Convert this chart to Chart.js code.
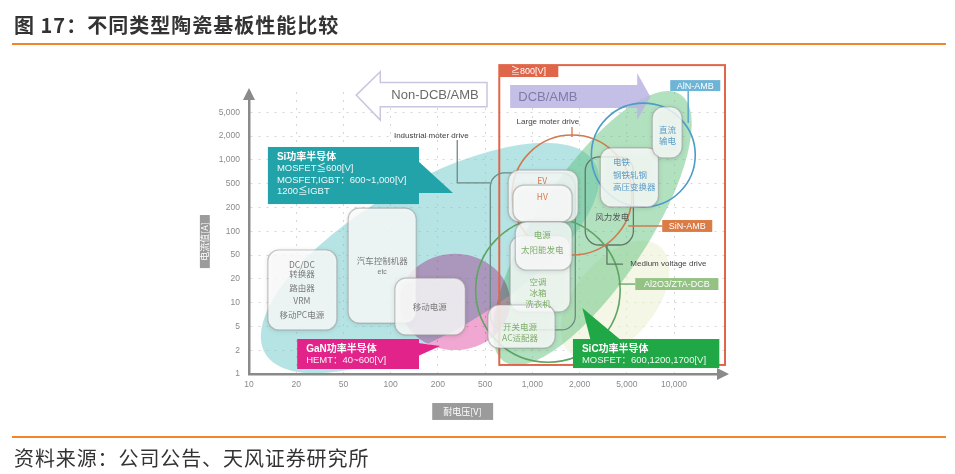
<!DOCTYPE html>
<html>
<head>
<meta charset="utf-8">
<script src="https://cdn.jsdelivr.net/npm/chart.js@4.4.0/dist/chart.umd.min.js"></script>
<style>
  body { margin: 0; width: 955px; height: 474px; position: relative; background: #fff; overflow: hidden; font-family: "Noto Sans CJK SC", sans-serif; }
  #wrap { position: absolute; left: 0; top: 0; width: 955px; height: 474px; }
  #title { position: absolute; left: 14px; top: 10px; font-size: 20px; font-weight: bold; letter-spacing: 1px; color: #333; white-space: nowrap; }
  #foot { position: absolute; left: 14px; top: 443px; font-size: 20px; letter-spacing: 0.9px; color: #333; white-space: nowrap; }
  .rule { position: absolute; left: 12px; width: 934px; height: 2px; background: #f0852a; }
</style>
</head>
<body>
<div id="wrap"><canvas id="c" width="955" height="474"></canvas></div>
<div id="title">图 17：不同类型陶瓷基板性能比较</div>
<div class="rule" style="top:43px"></div>
<div class="rule" style="top:436px"></div>
<div id="foot">资料来源：公司公告、天风证券研究所</div>
<script>
// axis ticks (equally spaced 1-2-5 steps)
const xTicks = ['10', '20', '50', '100', '200', '500', '1,000', '2,000', '5,000', '10,000'];
const yTicks = ['1', '2', '5', '10', '20', '50', '100', '200', '500', '1,000', '2,000', '5,000'];

// coloured material regions, in tick-index units
const zoneNames = ['Si', 'Al2O3', 'SiC', 'GaN'];
const zoneCenters = [[3.83, 4.87], [7.75, 3.11], [7.27, 6.13], [4.36, 3.03]];
const zoneRadii = [[4.03, 1.59], [1.48, 0.85], [3.39, 1.17], [1.17, 1.02]];
const zoneTilt = [-30, -50, -56.6, 0];

// substrate rings
const ringNames = ['Al2O3/ZTA-DCB', 'SiN-AMB', 'AlN-AMB'];
const ringCenters = [[6.33, 3.53], [6.84, 7.52], [8.35, 9.20]];
const ringRadius = [1.53, 1.27, 1.10];

// application boxes [x0, x1, yTop, yBottom]
const appBoxes = [
  [0.40, 1.86, 5.21, 1.85],
  [2.10, 3.54, 6.97, 2.14],
  [3.09, 4.58, 4.03, 1.64],
  [5.53, 6.80, 5.80, 2.61],
  [5.06, 6.48, 2.90, 1.09],
  [5.49, 6.97, 8.57, 6.39],
  [5.59, 6.84, 7.94, 6.39],
  [5.64, 6.84, 6.39, 4.37],
  [7.44, 8.67, 9.50, 7.02],
  [8.54, 9.17, 11.22, 9.08]
];

// application texts [text, x, y, group]
const appLabels = [
  ['DC/DC', 1.12, 4.58, 0], ['转换器', 1.12, 4.20, 0], ['路由器', 1.12, 3.61, 0], ['VRM', 1.12, 3.07, 0], ['移动PC电源', 1.12, 2.48, 0],
  ['汽车控制机器', 2.82, 4.75, 0], ['etc', 2.82, 4.29, 0],
  ['移动电源', 3.83, 2.82, 0],
  ['EV', 6.21, 8.11, 1], ['HV', 6.21, 7.44, 1],
  ['电源', 6.21, 5.84, 2], ['太阳能发电', 6.21, 5.21, 2],
  ['空调', 6.12, 3.87, 2], ['冰箱', 6.12, 3.40, 2], ['洗衣机', 6.12, 2.94, 2],
  ['开关电源', 5.74, 1.97, 2], ['AC适配器', 5.74, 1.51, 2],
  ['直流', 8.86, 10.25, 3], ['输电', 8.86, 9.79, 3],
  ['风力发电', 7.69, 6.60, 4]
];
const blueList = ['电铁', '钢铁轧钢', '高压变换器'];
const blueListAt = [7.71, [8.91, 8.36, 7.86]];

// drive notes [text, x, y]
const driveNotes = [['Industrial moter drive', 3.86, 10.0], ['Large moter drive', 6.33, 10.59], ['Medium voltage drive', 8.88, 4.62]];

// semiconductor callouts
const calloutTitles = ['Si功率半导体', 'GaN功率半导体', 'SiC功率半导体'];
const calloutLines = [
  ['MOSFET≦600[V]', 'MOSFET,IGBT：600~1,000[V]', '1200≦IGBT'],
  ['HEMT：40~600[V]'],
  ['MOSFET：600,1200,1700[V]']
];

const appColors = ['#7a7a7a', '#d97c4c', '#7eae6a', '#5b9cc6', '#555555'];

function rr(ctx, x0, y0, x1, y1, r) {
  ctx.beginPath();
  ctx.moveTo(x0 + r, y0);
  ctx.arcTo(x1, y0, x1, y1, r);
  ctx.arcTo(x1, y1, x0, y1, r);
  ctx.arcTo(x0, y1, x0, y0, r);
  ctx.arcTo(x0, y0, x1, y0, r);
  ctx.closePath();
}

const art = {
  id: 'art',
  beforeDatasetsDraw(chart) {
    const ctx = chart.ctx;
    const xs = chart.scales.x, ys = chart.scales.y;
    const X = v => xs.getPixelForValue(v), Y = v => ys.getPixelForValue(v);
    const U = X(1) - X(0);
    const latin = s => s + 'px "Liberation Sans", "Noto Sans CJK SC", sans-serif';
    const cjk = (s, w) => (w || '') + ' ' + s + 'px "Noto Sans CJK SC", sans-serif';
    const txt = (t, x, y, col, font, align) => {
      ctx.fillStyle = col; ctx.font = font; ctx.textAlign = align || 'center'; ctx.textBaseline = 'middle';
      ctx.fillText(t, x, y);
    };
    const poly = (pts) => {
      ctx.beginPath();
      pts.forEach((p, i) => i ? ctx.lineTo(X(p[0]), Y(p[1])) : ctx.moveTo(X(p[0]), Y(p[1])));
    };
    ctx.save();

    // regions
    const zoneFill = ['rgba(110,202,204,0.5)', 'rgba(238,241,214,0.6)', 'rgba(92,192,122,0.48)', 'rgb(240,168,210)'];
    zoneNames.forEach((n, i) => {
      ctx.save();
      if (n === 'GaN') ctx.globalCompositeOperation = 'multiply';
      ctx.fillStyle = zoneFill[i];
      ctx.beginPath();
      ctx.ellipse(X(zoneCenters[i][0]), Y(zoneCenters[i][1]), zoneRadii[i][0] * U, zoneRadii[i][1] * U, zoneTilt[i] * Math.PI / 180, 0, Math.PI * 2);
      ctx.fill();
      ctx.restore();
    });

    // Non-DCB/AMB arrow (outline)
    poly([[2.27, 11.72], [2.78, 12.70], [2.78, 12.25], [5.04, 12.25], [5.04, 11.23], [2.78, 11.23], [2.78, 10.67]]);
    ctx.closePath();
    ctx.fillStyle = '#fff'; ctx.fill();
    ctx.strokeStyle = '#c9c6df'; ctx.lineWidth = 1.5; ctx.stroke();
    txt('Non-DCB/AMB', X(3.94), Y(11.72), '#6a6a6a', latin(13));

    // ≧800V frame
    ctx.strokeStyle = '#e0664a'; ctx.lineWidth = 2;
    ctx.strokeRect(X(5.30), Y(12.98), X(10.08) - X(5.30), Y(0.38) - Y(12.98));
    ctx.fillStyle = '#e0664a';
    ctx.fillRect(X(5.30), Y(12.98), X(6.55) - X(5.30), Y(12.48) - Y(12.98));
    txt('≧800[V]', X(5.92), Y(12.73), '#fff', latin(9));

    // DCB/AMB arrow
    poly([[8.50, 11.65], [8.22, 12.65], [8.22, 12.14], [5.53, 12.14], [5.53, 11.18], [8.22, 11.18], [8.22, 10.67]]);
    ctx.closePath();
    ctx.fillStyle = 'rgba(186,180,226,0.85)'; ctx.fill();
    txt('DCB/AMB', X(6.33), Y(11.64), '#7f7ba8', latin(13));

    // drive outlines
    ctx.strokeStyle = '#6d8a86'; ctx.lineWidth = 1.3;
    rr(ctx, X(5.11), Y(8.45), X(6.91), Y(1.85), 14); ctx.stroke();
    ctx.strokeStyle = '#5f7a64';
    rr(ctx, X(7.12), Y(9.12), X(8.14), Y(5.42), 14); ctx.stroke();

    // rings
    const ringCol = ['#5fa463', '#cf7a4e', '#4d9cc9'];
    ringNames.forEach((n, i) => {
      ctx.strokeStyle = ringCol[i]; ctx.lineWidth = 1.6;
      ctx.beginPath();
      ctx.arc(X(ringCenters[i][0]), Y(ringCenters[i][1]), ringRadius[i] * U, 0, Math.PI * 2);
      ctx.stroke();
    });

    // application boxes
    appBoxes.forEach(b => {
      ctx.save();
      ctx.shadowColor = 'rgba(0,0,0,0.18)'; ctx.shadowBlur = 5; ctx.shadowOffsetY = 1;
      rr(ctx, X(b[0]), Y(b[2]), X(b[1]), Y(b[3]), 11);
      ctx.fillStyle = 'rgba(255,255,255,0.8)'; ctx.fill();
      ctx.restore();
      rr(ctx, X(b[0]), Y(b[2]), X(b[1]), Y(b[3]), 11);
      ctx.strokeStyle = 'rgba(150,150,150,0.55)'; ctx.lineWidth = 1.2; ctx.stroke();
    });
    appLabels.forEach(a => txt(a[0], X(a[1]), Y(a[2]), appColors[a[3]], a[0] === 'etc' ? latin(7) : cjk(8.5)));
    blueList.forEach((t, i) => txt(t, X(blueListAt[0]), Y(blueListAt[1][i]), appColors[3], cjk(8.5), 'left'));

    // leader lines
    const leader = (pts, col) => { poly(pts); ctx.strokeStyle = col; ctx.lineWidth = 1.3; ctx.stroke(); };
    leader([[4.41, 9.83], [4.41, 8.03], [5.11, 8.03]], '#6d8a86');
    leader([[6.84, 10.38], [6.84, 9.96]], '#cf7a4e');
    leader([[9.30, 11.89], [9.30, 10.55]], '#4d9cc9');
    leader([[8.03, 6.22], [8.75, 6.22]], '#cf7a4e');
    leader([[7.58, 5.42], [7.58, 4.62], [7.92, 4.62]], '#5f7a64');
    leader([[7.82, 3.78], [8.18, 3.78]], '#5fa463');
    driveNotes.forEach(d => txt(d[0], X(d[1]), Y(d[2]), '#444', latin(8)));

    // substrate tags
    const tag = (t, x0, x1, y0, y1, col) => {
      ctx.fillStyle = col; ctx.fillRect(X(x0), Y(y0), X(x1) - X(x0), Y(y1) - Y(y0));
      txt(t, (X(x0) + X(x1)) / 2, (Y(y0) + Y(y1)) / 2 + 0.5, '#fff', latin(9));
    };
    tag(ringNames[2], 8.92, 9.98, 12.35, 11.89, '#6db4d6');
    tag(ringNames[1], 8.75, 9.81, 6.47, 5.97, '#db7b45');
    tag(ringNames[0], 8.18, 9.94, 4.03, 3.53, '#93c283');

    // semiconductor callouts
    const callout = (i, box, ptr, col) => {
      ctx.fillStyle = col;
      ctx.fillRect(X(box[0]), Y(box[2]), X(box[1]) - X(box[0]), Y(box[3]) - Y(box[2]));
      poly(ptr); ctx.closePath(); ctx.fill();
      const lx = X(box[0]) + 9;
      let ly = Y(box[2]) + 10;
      txt(calloutTitles[i], lx, ly, '#fff', 'bold 10px "Liberation Sans", "Noto Sans CJK SC", sans-serif', 'left');
      calloutLines[i].forEach(l => { ly += 11.5; txt(l, lx, ly, 'rgba(255,255,255,0.92)', latin(9.5), 'left'); });
    };
    callout(0, [0.40, 3.60, 9.54, 7.14], [[3.58, 8.95], [4.32, 7.61], [3.58, 7.61]], '#22a3a9');
    callout(1, [1.02, 3.60, 1.47, 0.21], [[3.58, 1.30], [4.05, 1.18], [3.58, 0.76]], '#e2248a');
    callout(2, [6.86, 9.96, 1.47, 0.25], [[7.23, 1.45], [7.06, 2.77], [7.86, 1.45]], '#20a847');

    // axis titles
    ctx.fillStyle = '#9b9b9b';
    ctx.fillRect(X(3.88), Y(-1.22), X(5.17) - X(3.88), Y(-1.93) - Y(-1.22));
    txt('耐电压[V]', X(4.52), Y(-1.57), '#fff', cjk(9));
    ctx.fillStyle = '#9b9b9b';
    ctx.fillRect(X(-1.04), Y(6.68), X(-0.83) - X(-1.04), Y(4.45) - Y(6.68));
    ctx.save();
    ctx.translate(X(-0.935), Y(5.57));
    ctx.rotate(-Math.PI / 2);
    txt('电流值[A]', 0, 0, '#fff', cjk(9));
    ctx.restore();

    // axis arrow heads
    ctx.fillStyle = '#8a8a8a';
    ctx.beginPath();
    ctx.moveTo(xs.right + 4, ys.bottom); ctx.lineTo(xs.right - 8, ys.bottom - 6); ctx.lineTo(xs.right - 8, ys.bottom + 6); ctx.closePath(); ctx.fill();
    ctx.beginPath();
    ctx.moveTo(xs.left, ys.top - 4); ctx.lineTo(xs.left - 6, ys.top + 8); ctx.lineTo(xs.left + 6, ys.top + 8); ctx.closePath(); ctx.fill();
    ctx.restore();
  }
};

new Chart(document.getElementById('c'), {
  type: 'scatter',
  data: { datasets: [{ data: [] }] },
  options: {
    responsive: false,
    animation: false,
    layout: { padding: { left: 204, right: 230, top: 92, bottom: 70 } },
    plugins: { legend: { display: false }, tooltip: { enabled: false } },
    scales: {
      x: {
        type: 'linear', min: 0, max: 10.08,
        afterBuildTicks: s => { s.ticks = xTicks.map((_, i) => ({ value: i })); },
        afterFit: s => { s.height = 30; },
        ticks: { callback: v => xTicks[v], color: '#8a8a8a', padding: 6, maxRotation: 0, autoSkip: false, font: { family: 'Liberation Sans', size: 8.5 } },
        grid: { color: '#d6d6d6', drawTicks: false },
        border: { color: '#8a8a8a', width: 2.5, dash: [2, 6] }
      },
      y: {
        type: 'linear', min: 0, max: 11.85,
        afterBuildTicks: s => { s.ticks = yTicks.map((_, i) => ({ value: i })); },
        afterFit: s => { s.width = 45; },
        ticks: { callback: v => yTicks[v], color: '#8a8a8a', padding: 9, autoSkip: false, font: { family: 'Liberation Sans', size: 8.5 } },
        grid: { color: '#d6d6d6', drawTicks: false },
        border: { color: '#8a8a8a', width: 2.5, dash: [2, 6] }
      }
    }
  },
  plugins: [art]
});
</script>
</body>
</html>
